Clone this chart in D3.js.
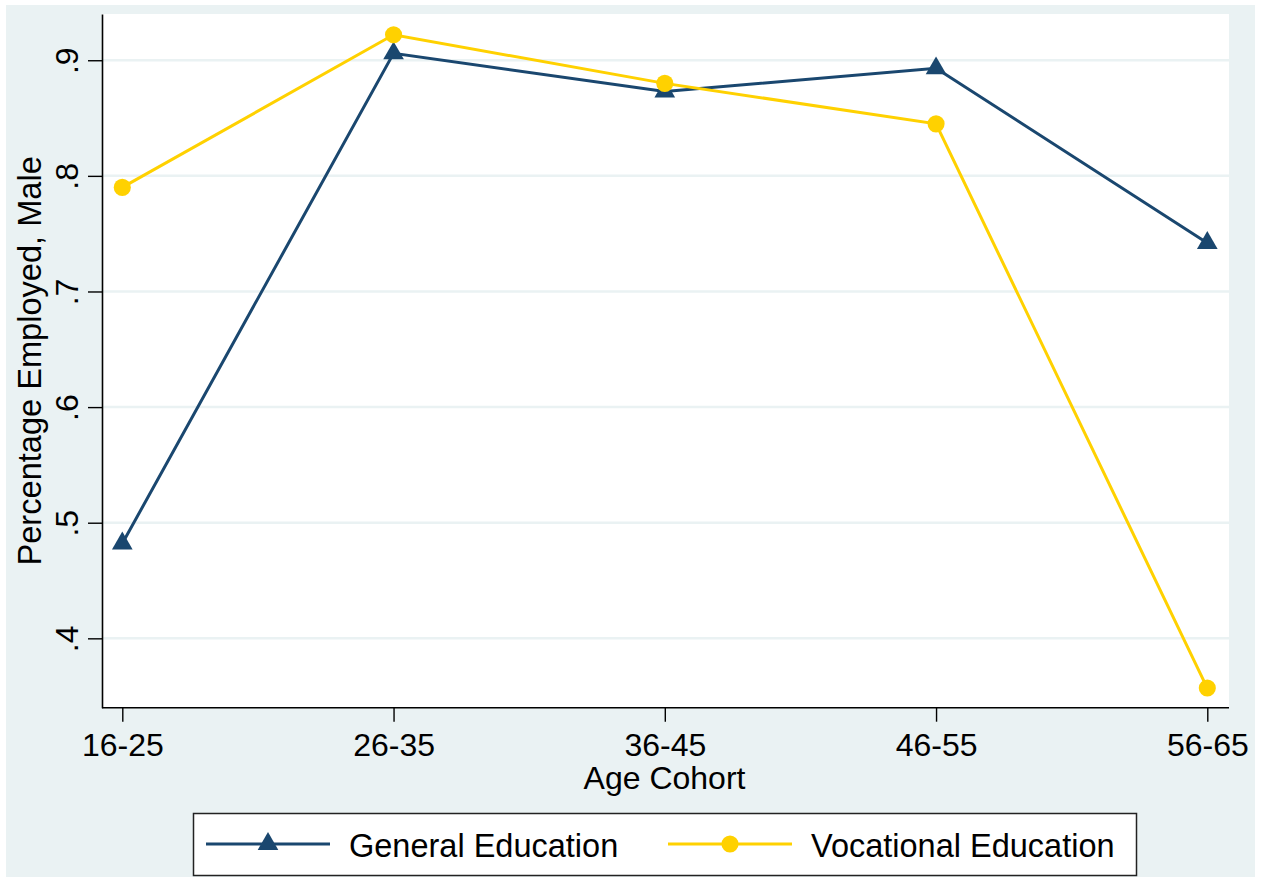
<!DOCTYPE html>
<html>
<head>
<meta charset="utf-8">
<script src="https://cdn.jsdelivr.net/npm/d3@7"></script>
<style>
  html, body { margin: 0; padding: 0; background: #fff; }
  text { font-family: "Liberation Sans", Arial, sans-serif; fill: #000; }
</style>
</head>
<body>
<script>
"use strict";

const width = 1262;
const height = 877;

const cohorts = ["16-25", "26-35", "36-45", "46-55", "56-65"];
const generalEd = [0.482, 0.906, 0.873, 0.893, 0.742];
const vocationalEd = [0.790, 0.922, 0.880, 0.845, 0.357];
const yTicks = [0.4, 0.5, 0.6, 0.7, 0.8, 0.9];

const navy = "#1a476f";
const gold = "#ffd100";
const bg = "#eaf2f3";

const svg = d3.select("body").append("svg")
  .attr("width", width)
  .attr("height", height);

// outer graph region
svg.append("rect")
  .attr("x", 6).attr("y", 5)
  .attr("width", 1249).attr("height", 872)
  .attr("fill", bg);

const plotLeft = 102, plotRight = 1229;

const x = d3.scalePoint().domain(cohorts).range([122.3, 1207.3]);
const y = d3.scaleLinear().domain([0.34, 0.94]).range([707.7, 14]);

// plot region
svg.append("rect")
  .attr("x", plotLeft).attr("y", y(0.94))
  .attr("width", plotRight - plotLeft).attr("height", y(0.34) - y(0.94))
  .attr("fill", "#fff");

// gridlines
svg.append("g").selectAll("line")
  .data(yTicks)
  .enter().append("line")
  .attr("x1", plotLeft).attr("x2", plotRight)
  .attr("y1", d => y(d)).attr("y2", d => y(d))
  .attr("stroke", bg)
  .attr("stroke-width", 2.5);

const fmt = d => d3.format(".1f")(d).replace(/^0/, "");

// y axis
const yAxis = svg.append("g")
  .attr("transform", `translate(${plotLeft},0)`)
  .call(d3.axisLeft(y).tickValues(yTicks).tickFormat(fmt).tickSize(14).tickSizeOuter(0));
yAxis.select(".domain").attr("stroke", "#000").attr("stroke-width", 1.6);
yAxis.selectAll(".tick line").attr("stroke", "#000").attr("stroke-width", 1.4);
yAxis.selectAll(".tick text")
  .attr("x", null).attr("dy", null)
  .attr("transform", "translate(-24,0) rotate(-90)")
  .attr("text-anchor", "middle")
  .attr("font-size", 32)
  .attr("font-family", null);

// x axis
const xAxis = svg.append("g")
  .attr("transform", `translate(0,${y(0.34)})`)
  .call(d3.axisBottom(x).tickSize(14).tickSizeOuter(0));
xAxis.select(".domain")
  .attr("d", `M${plotLeft},0H${plotRight}`)
  .attr("stroke", "#000").attr("stroke-width", 1.6);
xAxis.selectAll(".tick line").attr("stroke", "#000").attr("stroke-width", 1.4);
xAxis.selectAll(".tick text")
  .attr("y", 48.5).attr("dy", null)
  .attr("font-size", 32)
  .attr("font-family", null);

// axis titles
svg.append("text")
  .attr("transform", `translate(41,${(y(0.34) + y(0.94)) / 2}) rotate(-90)`)
  .attr("text-anchor", "middle")
  .attr("font-size", 32.6)
  .text("Percentage Employed, Male");

svg.append("text")
  .attr("x", (plotLeft + plotRight) / 2 - 1)
  .attr("y", 789)
  .attr("text-anchor", "middle")
  .attr("font-size", 32)
  .text("Age Cohort");

// series
const line = d3.line()
  .x((d, i) => x(cohorts[i]))
  .y(d => y(d));

const tri = d3.symbol().type(d3.symbolTriangle).size(185);
const dot = d3.symbol().type(d3.symbolCircle).size(230);

svg.append("path")
  .datum(generalEd)
  .attr("d", line)
  .attr("fill", "none")
  .attr("stroke", navy)
  .attr("stroke-width", 3);

svg.append("g").selectAll("path")
  .data(generalEd)
  .enter().append("path")
  .attr("d", tri)
  .attr("transform", (d, i) => `translate(${x(cohorts[i])},${y(d)})`)
  .attr("fill", navy);

svg.append("path")
  .datum(vocationalEd)
  .attr("d", line)
  .attr("fill", "none")
  .attr("stroke", gold)
  .attr("stroke-width", 3);

svg.append("g").selectAll("path")
  .data(vocationalEd)
  .enter().append("path")
  .attr("d", dot)
  .attr("transform", (d, i) => `translate(${x(cohorts[i])},${y(d)})`)
  .attr("fill", gold);

// legend
const legend = svg.append("g");
legend.append("rect")
  .attr("x", 193.5).attr("y", 813.5)
  .attr("width", 943).attr("height", 62)
  .attr("fill", "#fff")
  .attr("stroke", "#222")
  .attr("stroke-width", 1.5);

const legendItems = [
  { label: "General Education", color: navy, sym: tri, x0: 206 },
  { label: "Vocational Education", color: gold, sym: dot, x0: 668 }
];

legendItems.forEach(it => {
  legend.append("line")
    .attr("x1", it.x0).attr("x2", it.x0 + 124)
    .attr("y1", 844).attr("y2", 844)
    .attr("stroke", it.color)
    .attr("stroke-width", 3);
  legend.append("path")
    .attr("d", it.sym)
    .attr("transform", `translate(${it.x0 + 62},844)`)
    .attr("fill", it.color);
  legend.append("text")
    .attr("x", it.x0 + 143)
    .attr("y", 857)
    .attr("font-size", 32.5)
    .text(it.label);
});
</script>
</body>
</html>
